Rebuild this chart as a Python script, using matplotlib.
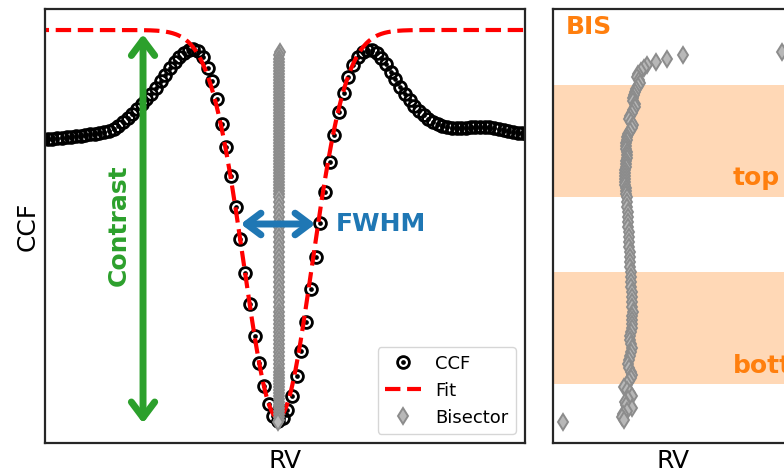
import numpy as np
import matplotlib
matplotlib.use("Agg")
import matplotlib.pyplot as plt
from matplotlib.legend_handler import HandlerTuple

# CCF sampled on the RV grid (km/s)
rv = np.arange(-25.0, 26.51, 0.5)
ccf = [0.837, 0.837, 0.837, 0.838, 0.838, 0.840, 0.840, 0.841, 0.841, 0.843,
       0.844, 0.844, 0.846, 0.847, 0.849, 0.852, 0.856, 0.862, 0.868, 0.874,
       0.882, 0.889, 0.897, 0.904, 0.913, 0.924, 0.933, 0.943, 0.952, 0.960,
       0.966, 0.970, 0.972, 0.969, 0.960, 0.943, 0.924, 0.897, 0.859, 0.825,
       0.781, 0.735, 0.687, 0.636, 0.589, 0.541, 0.501, 0.466, 0.439, 0.421,
       0.414, 0.418, 0.430, 0.451, 0.481, 0.519, 0.562, 0.612, 0.660, 0.711,
       0.757, 0.802, 0.843, 0.877, 0.906, 0.930, 0.948, 0.960, 0.967, 0.970,
       0.970, 0.966, 0.958, 0.949, 0.937, 0.927, 0.915, 0.904, 0.895, 0.886,
       0.879, 0.873, 0.867, 0.862, 0.859, 0.856, 0.855, 0.853, 0.853, 0.853,
       0.853, 0.855, 0.855, 0.855, 0.855, 0.855, 0.853, 0.852, 0.850, 0.849,
       0.847, 0.846, 0.846, 0.844]

# gaussian fit parameters
fit_cont = 1.0
fit_depth = 0.582
fit_rv0 = 0.0
fit_sigma = 3.62

# bisector: CCF level and RV of the midpoint
bis_level = [0.967, 0.9625, 0.9565, 0.952, 0.9475, 0.943, 0.9385, 0.934, 0.9295, 0.925,
             0.9205, 0.916, 0.9115, 0.907, 0.9025, 0.898, 0.8935, 0.889, 0.8845, 0.880,
             0.8755, 0.871, 0.8665, 0.862, 0.8575, 0.853, 0.8485, 0.844, 0.8395, 0.835,
             0.8305, 0.826, 0.8215, 0.817, 0.8125, 0.808, 0.8035, 0.799, 0.7945, 0.790,
             0.7855, 0.781, 0.7765, 0.772, 0.7675, 0.763, 0.7585, 0.754, 0.7495, 0.742,
             0.7345, 0.727, 0.7195, 0.712, 0.7045, 0.697, 0.6895, 0.682, 0.6745, 0.667,
             0.6595, 0.652, 0.6445, 0.637, 0.6295, 0.622, 0.6145, 0.607, 0.5995, 0.592,
             0.5845, 0.577, 0.571, 0.565, 0.559, 0.553, 0.547, 0.541, 0.535, 0.529,
             0.523, 0.517, 0.511, 0.505, 0.499, 0.493, 0.487, 0.4825, 0.478, 0.4735,
             0.469, 0.4645, 0.460, 0.4555, 0.451, 0.4465, 0.442, 0.4375, 0.433, 0.4285,
             0.424, 0.4195, 0.415, 0.412]
bis_rv = [0.255, 0.156, 0.140, 0.129, 0.120, 0.117, 0.114, 0.111, 0.110, 0.112,
          0.113, 0.111, 0.109, 0.108, 0.107, 0.106, 0.106, 0.108, 0.108, 0.106,
          0.105, 0.103, 0.102, 0.104, 0.106, 0.105, 0.103, 0.101, 0.100, 0.100,
          0.099, 0.099, 0.099, 0.100, 0.100, 0.100, 0.099, 0.099, 0.099, 0.098,
          0.098, 0.098, 0.098, 0.098, 0.098, 0.099, 0.099, 0.099, 0.100, 0.100,
          0.100, 0.101, 0.101, 0.101, 0.101, 0.102, 0.102, 0.102, 0.102, 0.103,
          0.103, 0.103, 0.103, 0.104, 0.104, 0.104, 0.104, 0.105, 0.105, 0.105,
          0.105, 0.106, 0.105, 0.105, 0.105, 0.105, 0.104, 0.103, 0.103, 0.104,
          0.105, 0.104, 0.103, 0.102, 0.101, 0.102, 0.104, 0.105, 0.104, 0.102,
          0.100, 0.097, 0.100, 0.103, 0.105, 0.101, 0.098, 0.099, 0.105, 0.100,
          0.096, 0.095, 0.097, 0.036]

# CCF level ranges used for the BIS top and bottom regions
top_band = [0.7495, 0.9175]
bottom_band = [0.469, 0.637]

ylims = (0.3805, 1.0315)

bis_style = dict(ls="none", marker="d", ms=8.5, mfc="0.72", mec="0.55", mew=1.4)

fig = plt.figure(figsize=(7.84, 4.70), dpi=100)
ax = fig.add_axes([45 / 784, 27 / 470, 480 / 784, 434 / 470])
ax2 = fig.add_axes([553 / 784, 27 / 470, 240 / 784, 434 / 470])

# --- left: CCF, fit and bisector
h_ring, = ax.plot(rv, ccf, "o", ms=8.5, mfc="none", mec="k", mew=2.0)
h_dot, = ax.plot(rv, ccf, "o", ms=3.4, color="k", mew=0)

xx = np.linspace(-26, 27, 600)
fit = fit_cont - fit_depth * np.exp(-0.5 * ((xx - fit_rv0) / fit_sigma) ** 2)
h_fit, = ax.plot(xx, fit, "r--", lw=3)

h_bis, = ax.plot(bis_rv, bis_level, **bis_style)

# contrast arrow
x_con = -14.36
ax.annotate("", xy=(x_con, min(ccf) - 0.004), xytext=(x_con, fit_cont),
            arrowprops=dict(arrowstyle="<->, head_length=0.4, head_width=0.3",
                            color="C2", lw=5, mutation_scale=28,
                            shrinkA=3, shrinkB=0))
ax.text(x_con - 2.55, 0.7075, "Contrast", rotation=90, color="C2",
        fontsize=18, fontweight="bold", ha="center", va="center")

# FWHM arrow
fwhm = 2.3548 * fit_sigma
half = fit_cont - fit_depth / 2
ax.annotate("", xy=(fit_rv0 - fwhm / 2, half), xytext=(fit_rv0 + fwhm / 2, half),
            arrowprops=dict(arrowstyle="<->, head_length=0.4, head_width=0.3",
                            color="C0", lw=5, mutation_scale=26))
ax.text(6.1, half, "FWHM", color="C0", fontsize=18, fontweight="bold",
        ha="left", va="center")

ax.set_xlim(-24.79, 26.28)
ax.set_ylim(*ylims)
ax.set_xticks([])
ax.set_yticks([])
ax.set_xlabel("RV", fontsize=18)
ax.set_ylabel("CCF", fontsize=18)
ax.legend([(h_ring, h_dot), h_fit, h_bis], ["CCF", "Fit", "Bisector"],
          handler_map={tuple: HandlerTuple(ndivide=1, pad=0)},
          loc="lower right", fontsize=13)

# --- right: zoom on the bisector
ax2.axhspan(top_band[0], top_band[1], color="C1", alpha=0.3, lw=0)
ax2.axhspan(bottom_band[0], bottom_band[1], color="C1", alpha=0.3, lw=0)
ax2.plot(bis_rv, bis_level, **bis_style)
ax2.text(0.055, 0.986, "BIS", transform=ax2.transAxes, color="C1",
         fontsize=18, fontweight="bold", ha="left", va="top")
trans = ax2.get_yaxis_transform()
ax2.text(0.75, top_band[0] + 0.01, "top", transform=trans, color="C1",
         fontsize=18, fontweight="bold", ha="left", va="bottom")
ax2.text(0.75, bottom_band[0] + 0.009, "bottom", transform=trans, color="C1",
         fontsize=18, fontweight="bold", ha="left", va="bottom")
ax2.set_xlim(0.026, 0.266)
ax2.set_ylim(*ylims)
ax2.set_xticks([])
ax2.set_yticks([])
ax2.set_xlabel("RV", fontsize=18)

for a in (ax, ax2):
    for s in a.spines.values():
        s.set_linewidth(1.6)
        s.set_color("0.15")

fig.savefig("out.png", dpi=100)
